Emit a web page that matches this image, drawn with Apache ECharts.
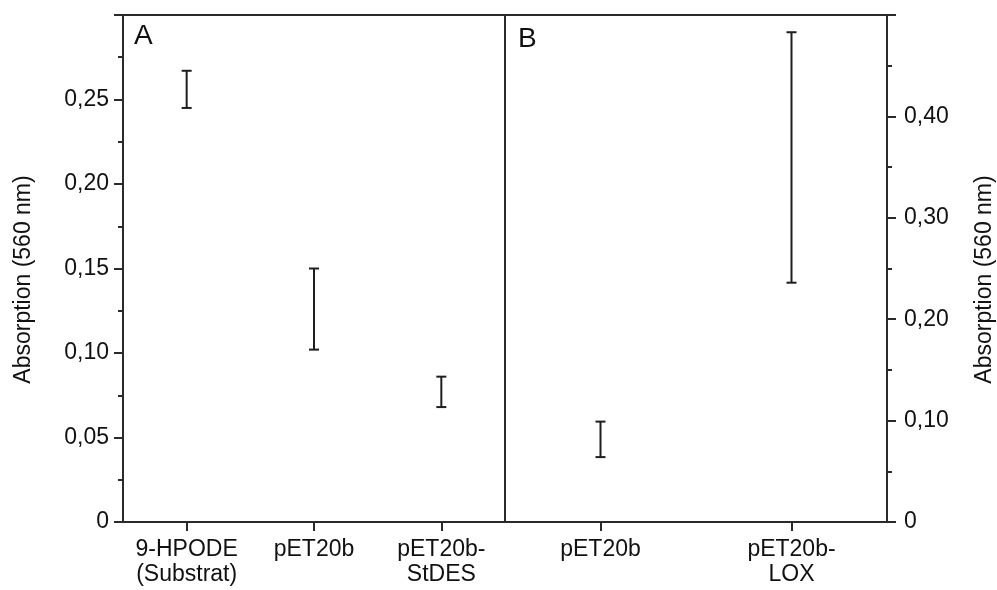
<!DOCTYPE html>
<html>
<head>
    <meta charset="utf-8">
    <title>Absorption</title>
    <script src="https://cdn.jsdelivr.net/npm/echarts@6/dist/echarts.min.js"></script>
    <style>
        html, body { margin: 0; padding: 0; background: #fff; }
        #main { width: 997px; height: 590px; }
    </style>
</head>
<body>
<div id="main"></div>
<script type="text/javascript">
// panel A
var catsA = ['9-HPODE\n(Substrat)', 'pET20b', 'pET20b-\nStDES'];
var lowA = [0.245, 0.102, 0.068];
var highA = [0.267, 0.150, 0.086];
// panel B
var catsB = ['pET20b', 'pET20b-\nLOX'];
var lowB = [0.064, 0.236];
var highB = [0.099, 0.483];

var lineCol = '#2a2a2a';
var fontFam = 'Liberation Sans, Arial, sans-serif';

function toRows(low, high) {
    var rows = [];
    for (var i = 0; i < low.length; i++) rows.push([i, low[i], high[i]]);
    return rows;
}

function errorBar(params, api) {
    var x = api.value(0);
    var lo = api.coord([x, api.value(1)]);
    var hi = api.coord([x, api.value(2)]);
    var w = 5;
    var st = { stroke: '#1e1e1e', lineWidth: 2 };
    return {
        type: 'group',
        children: [
            { type: 'line', shape: { x1: lo[0], y1: lo[1], x2: hi[0], y2: hi[1] }, style: st },
            { type: 'line', shape: { x1: lo[0] - w, y1: lo[1], x2: lo[0] + w, y2: lo[1] }, style: st },
            { type: 'line', shape: { x1: hi[0] - w, y1: hi[1], x2: hi[0] + w, y2: hi[1] }, style: st }
        ]
    };
}

function fmt(max) {
    return function (v) {
        if (v === 0) return '0';
        if (v >= max - 1e-9) return '';
        return v.toFixed(2).replace('.', ',');
    };
}

var tickLabel = { color: '#111', fontSize: 23, fontFamily: fontFam };
var tickStyle = { color: lineCol, width: 2 };

var myChart = echarts.init(document.getElementById('main'));
var option = {
    animation: false,
    title: [
        { text: 'A', left: 129, top: 17, textStyle: { fontSize: 28, fontWeight: 'normal', color: '#111', fontFamily: fontFam } },
        { text: 'B', left: 513, top: 20, textStyle: { fontSize: 28, fontWeight: 'normal', color: '#111', fontFamily: fontFam } }
    ],
    grid: [
        { left: 123, top: 15, width: 382, height: 507, show: true, borderColor: lineCol, borderWidth: 2 },
        { left: 505, top: 15, width: 382, height: 507, show: true, borderColor: lineCol, borderWidth: 2 }
    ],
    xAxis: [
        {
            gridIndex: 0, type: 'category', data: catsA,
            axisLine: { show: true, lineStyle: tickStyle },
            axisTick: { show: true, alignWithLabel: true, length: 9, lineStyle: tickStyle },
            axisLabel: Object.assign({ margin: 15, lineHeight: 25, interval: 0 }, tickLabel),
            splitLine: { show: false }
        },
        {
            gridIndex: 1, type: 'category', data: catsB,
            axisLine: { show: true, lineStyle: tickStyle },
            axisTick: { show: true, alignWithLabel: true, length: 9, lineStyle: tickStyle },
            axisLabel: Object.assign({ margin: 15, lineHeight: 25, interval: 0 }, tickLabel),
            splitLine: { show: false }
        }
    ],
    yAxis: [
        {
            gridIndex: 0, type: 'value', min: 0, max: 0.30, interval: 0.05,
            name: 'Absorption (560 nm)', nameLocation: 'middle', nameGap: 88, nameRotate: 90,
            nameTextStyle: { color: '#111', fontSize: 23, fontFamily: fontFam, padding: [0, 22, 0, 0] },
            axisLine: { show: true, lineStyle: tickStyle },
            axisTick: { show: true, length: 9, lineStyle: tickStyle },
            minorTick: { show: true, splitNumber: 2, length: 5, lineStyle: tickStyle },
            axisLabel: Object.assign({ margin: 14, formatter: fmt(0.30), showMaxLabel: true }, tickLabel),
            splitLine: { show: false }
        },
        {
            gridIndex: 1, type: 'value', position: 'right', min: 0, max: 0.50, interval: 0.10,
            name: 'Absorption (560 nm)', nameLocation: 'middle', nameGap: 86, nameRotate: 90,
            nameTextStyle: { color: '#111', fontSize: 23, fontFamily: fontFam, padding: [0, 22, 0, 0] },
            axisLine: { show: true, lineStyle: tickStyle },
            axisTick: { show: true, length: 9, lineStyle: tickStyle },
            minorTick: { show: true, splitNumber: 2, length: 5, lineStyle: tickStyle },
            axisLabel: Object.assign({ margin: 17, formatter: fmt(0.50) }, tickLabel),
            splitLine: { show: false }
        }
    ],
    series: [
        {
            type: 'custom', xAxisIndex: 0, yAxisIndex: 0,
            renderItem: errorBar, encode: { x: 0, y: [1, 2] },
            data: toRows(lowA, highA)
        },
        {
            type: 'custom', xAxisIndex: 1, yAxisIndex: 1,
            renderItem: errorBar, encode: { x: 0, y: [1, 2] },
            data: toRows(lowB, highB)
        }
    ]
};
myChart.setOption(option);
</script>
</body>
</html>
